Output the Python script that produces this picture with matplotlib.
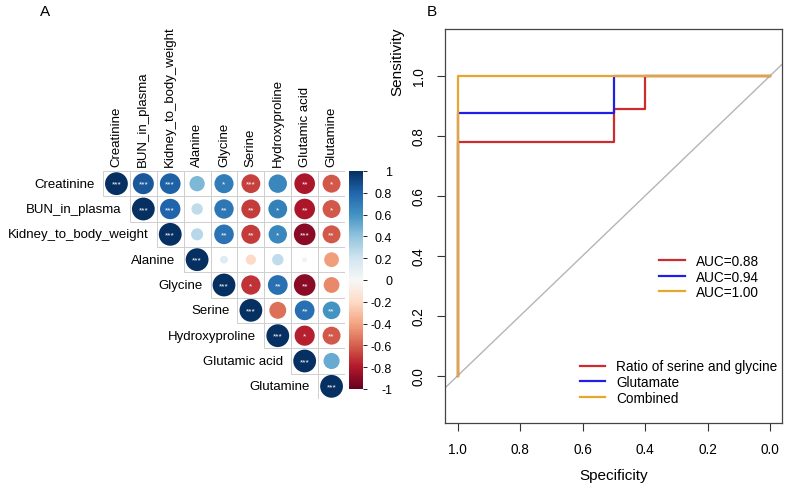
import numpy as np
import matplotlib
matplotlib.use('Agg')
import matplotlib.pyplot as plt
from matplotlib.colors import Normalize
from matplotlib.colorbar import ColorbarBase
from matplotlib.patches import Rectangle
from matplotlib.lines import Line2D

plt.rcParams['font.family'] = ['Liberation Sans', 'DejaVu Sans']

# ---- panel A data: upper triangle of the correlation matrix ----
variables = ['Creatinine', 'BUN_in_plasma', 'Kidney_to_body_weight', 'Alanine',
             'Glycine', 'Serine', 'Hydroxyproline', 'Glutamic acid', 'Glutamine']
corr_upper = [
    [1.00, 0.85, 0.82, 0.45, 0.70, -0.68, 0.65, -0.82, -0.62],
    [1.00, 0.80, 0.25, 0.72, -0.70, 0.68, -0.82, -0.62],
    [1.00, 0.28, 0.74, -0.70, 0.65, -0.90, -0.62],
    [1.00, 0.12, -0.20, 0.25, -0.05, -0.42],
    [1.00, -0.72, 0.75, -0.90, -0.48],
    [1.00, -0.55, 0.75, 0.60],
    [1.00, -0.78, -0.62],
    [1.00, 0.50],
    [1.00],
]
stars_upper = [
    ['***', '***', '***', '', '*', '***', '', '**', '*'],
    ['***', '***', '', '**', '**', '*', '**', '*'],
    ['***', '', '**', '**', '*', '***', '**'],
    ['***', '', '', '', '', ''],
    ['***', '*', '**', '**', ''],
    ['***', '', '**', '**'],
    ['***', '*', '**'],
    ['***', ''],
    ['***'],
]
cbar_ticks = [1, 0.8, 0.6, 0.4, 0.2, 0, -0.2, -0.4, -0.6, -0.8, -1]

# ---- panel B data: ROC curves (specificity, sensitivity) ----
roc_names = ['Ratio of serine and glycine', 'Glutamate', 'Combined']
roc_auc = ['AUC=0.88', 'AUC=0.94', 'AUC=1.00']
roc_spec = [
    [1.0, 1.0, 0.5, 0.5, 0.4, 0.4, 0.0],
    [1.0, 1.0, 0.5, 0.5, 0.0],
    [1.0, 1.0, 0.0],
]
roc_sens = [
    [0.0, 0.778, 0.778, 0.889, 0.889, 1.0, 1.0],
    [0.0, 0.875, 0.875, 1.0, 1.0],
    [0.0, 1.0, 1.0],
]
roc_colors = ['#cc2b2f', '#1f1fe6', '#e8a62c']
x_ticks = [1.0, 0.8, 0.6, 0.4, 0.2, 0.0]
y_ticks = [0.0, 0.2, 0.4, 0.6, 0.8, 1.0]

W, H = 787, 485
fig = plt.figure(figsize=(W / 100, H / 100), dpi=100)


def px_axes(x0, y0, x1, y1):
    return fig.add_axes([x0 / W, (H - y1) / H, (x1 - x0) / W, (y1 - y0) / H])


# ---------------- panel A ----------------
n = len(variables)
cmap = plt.get_cmap('RdBu')
norm = Normalize(-1, 1)
ax_c = px_axes(103, 172, 345, 400)
ax_c.set_xlim(0, n)
ax_c.set_ylim(n, 0)
ax_c.axis('off')

cell_pt = min(242 / n, 228 / n) * 72 / 100
xs, ys, vals, sizes = [], [], [], []
for i in range(n):
    for k, r in enumerate(corr_upper[i]):
        j = i + k
        ax_c.add_patch(Rectangle((j, i), 1, 1, fill=False, ec='#cfcfcf', lw=0.7))
        xs.append(j + 0.5)
        ys.append(i + 0.5)
        vals.append(r)
        sizes.append((0.9 * np.sqrt(abs(r)) * cell_pt) ** 2)
        if stars_upper[i][k]:
            ax_c.text(j + 0.5, i + 0.52, stars_upper[i][k], color='white',
                      fontsize=6, ha='center', va='center')
ax_c.scatter(xs, ys, s=sizes, c=vals, cmap=cmap, norm=norm, lw=0, zorder=1)

for i, name in enumerate(variables):
    ax_c.text(i - 0.3, i + 0.5, name, ha='right', va='center', fontsize=9.5)
    ax_c.text(i + 0.5, -0.2, name, ha='center', va='bottom', rotation=90, fontsize=9.5)

cax = px_axes(349, 172, 363, 390)
cb = ColorbarBase(cax, cmap=cmap, norm=norm, ticks=cbar_ticks)
cb.outline.set_visible(False)
cb.set_ticklabels([f'{t:g}' for t in cbar_ticks])
cax.tick_params(labelsize=9, length=3, width=0.6, pad=18)
for lab in cax.get_yticklabels():
    lab.set_horizontalalignment('right')

fig.text(40 / W, 1 - 12 / H, 'A', fontsize=11, ha='left', va='center')

# ---------------- panel B ----------------
ax = px_axes(445, 30, 782, 424)
ax.set_xlim(1.041, -0.038)
ax.set_ylim(-0.158, 1.156)
ax.plot([1.041, -0.038], [-0.041, 1.038], color='#b5b5b5', lw=1)
handles = []
for sp, se, col in zip(roc_spec, roc_sens, roc_colors):
    ax.plot(sp, se, color=col, lw=1.6)
    handles.append(Line2D([], [], color=col, lw=1.6))

leg1 = ax.legend(handles, roc_auc, loc='upper left', bbox_to_anchor=(0.62, 0.443),
                 frameon=False, fontsize=9.8, handlelength=1.9, handletextpad=0.8,
                 labelspacing=0.12, borderaxespad=0)
ax.add_artist(leg1)
ax.legend(handles, roc_names, loc='upper left', bbox_to_anchor=(0.383, 0.175),
          frameon=False, fontsize=9.8, handlelength=1.9, handletextpad=0.8,
          labelspacing=0.12, borderaxespad=0)

ax.set_xticks(x_ticks)
ax.set_xticklabels([f'{t:.1f}' for t in x_ticks])
ax.set_yticks(y_ticks)
ax.set_yticklabels([f'{t:.1f}' for t in y_ticks], rotation=90, va='center')
ax.tick_params(labelsize=9.8, length=6, width=0.8, color='#333333', pad=8)
for s in ax.spines.values():
    s.set_color('#444444')
    s.set_linewidth(0.9)
ax.set_xlabel('Specificity', fontsize=11, labelpad=8)
fig.text(397 / W, 1 - 62 / H, 'Sensitivity', fontsize=11, rotation=90,
         ha='center', va='center')

fig.text(432 / W, 1 - 12 / H, 'B', fontsize=11, ha='center', va='center')

fig.savefig('out.png', dpi=100)
